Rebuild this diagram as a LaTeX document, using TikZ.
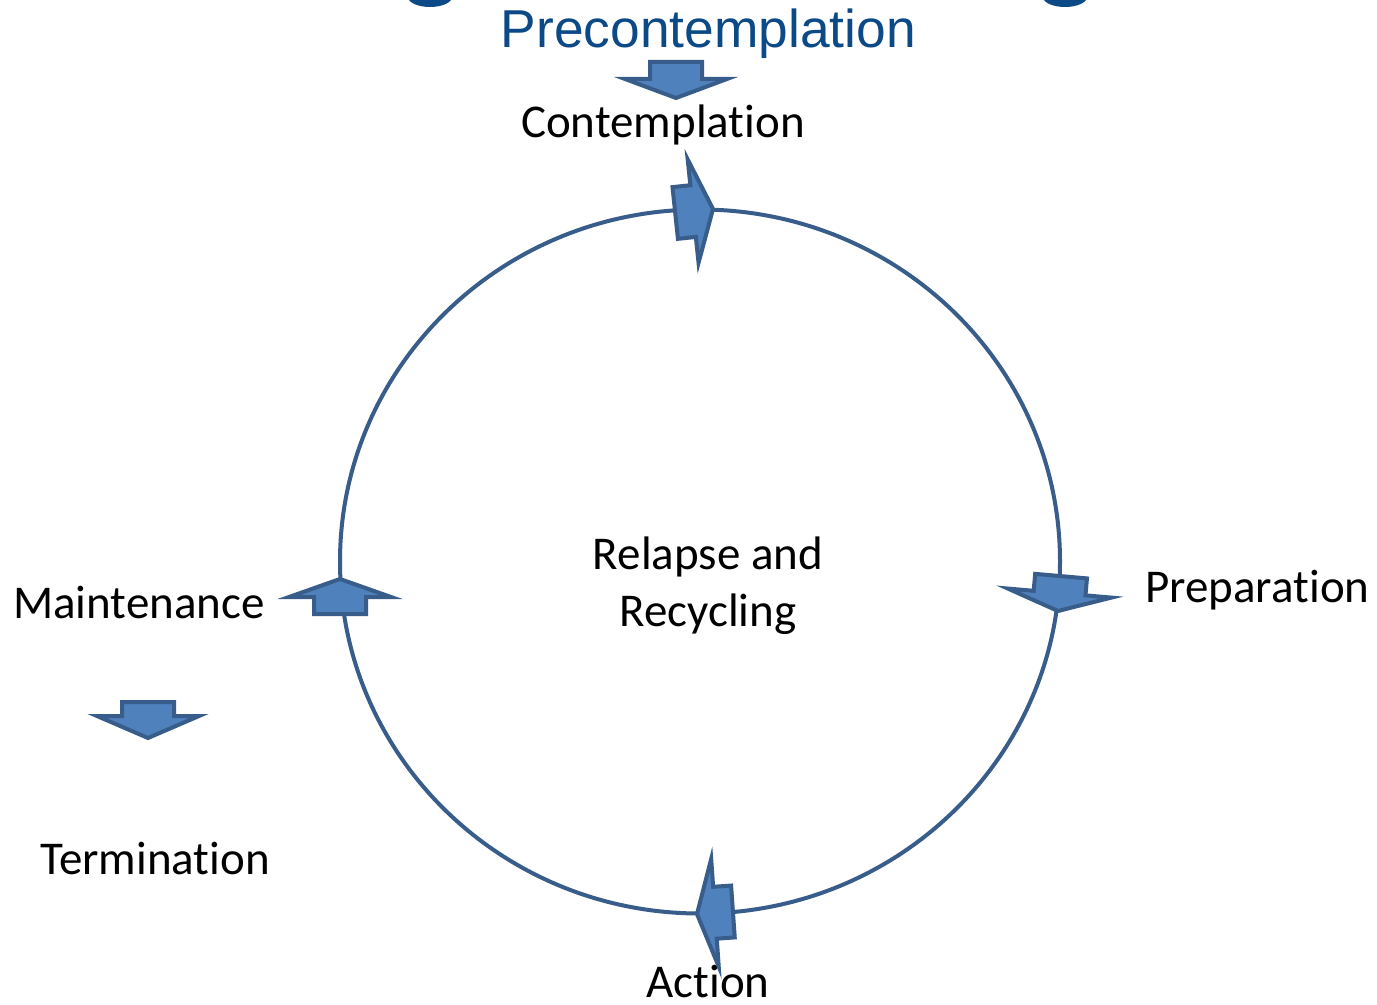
\documentclass[tikz,border=0pt]{standalone}
\usepackage{fontspec}
\setmainfont{Carlito}[Ligatures={CommonOff,RareOff,ContextualOff}]
\newfontfamily\titlefont{Liberation Sans}
\definecolor{titleblue}{RGB}{11,74,134}
\definecolor{arrowfill}{RGB}{79,129,189}
\definecolor{arrowline}{RGB}{56,93,138}
\tikzset{
  arrowshape/.style={draw=arrowline, fill=arrowfill, line width=3pt},
  pics/blockarrow/.style n args={4}{code={
    \path[arrowshape] (0,0) -- (-#2,-#4) -- (-#2,-#3) -- (-#2-#1,-#3)
      -- (-#2-#1,#3) -- (-#2,#3) -- (-#2,#4) -- cycle;
  }},
  lbl/.style={inner sep=0pt, font=\fontsize{35.25}{42.75}\selectfont, text=black},
  ttl/.style={inner sep=0pt, font=\titlefont\fontsize{40}{48}\selectfont, text=titleblue},
  ring/.style={draw=arrowline, line width=3pt}
}
\begin{document}
\begin{tikzpicture}[x=0.75pt,y=-0.75pt]
\useasboundingbox (0,0) rectangle (1377,1005);
\clip (0,0) rectangle (1377,1005);
\fill[white] (0,0) rectangle (1377,1005);
% remnants of the cut-off title
\fill[titleblue] (430,-3) ellipse [x radius=22, y radius=10];
\fill[titleblue] (1065,-3) ellipse [x radius=22, y radius=10];
% cycle
\path[ring] (700,561.5) ellipse [x radius=360, y radius=352];
% labels
\node[ttl, anchor=base] (pre) at (708.5,48) {Precontemplation};
\node[lbl, anchor=base] (con) at (663,138) {Contemplation};
\node[lbl, anchor=base west] (prep) at (1145,602) {Preparation};
\node[lbl, anchor=base] (act) at (708,997) {Action};
\node[lbl, anchor=base west] (main) at (13,618) {Maintenance};
\node[lbl, anchor=base west] (term) at (40,874) {Termination};
\node[lbl, anchor=base] (rel1) at (708,569) {Relapse and};
\node[lbl, anchor=base] (rel2) at (708,626) {Recycling};
% block arrows
\pic[rotate=-90] at (676,98) {blockarrow={17}{19}{26}{51}};
\pic[rotate=6] at (713,209) {blockarrow={18}{20}{26}{52}};
\pic[rotate=-95] at (1058,611) {blockarrow={17}{18}{26}{52}};
\pic[rotate=184] at (697,914) {blockarrow={18}{18}{26}{54}};
\pic[rotate=90] at (340,579) {blockarrow={17}{18}{26}{51}};
\pic[rotate=-90] at (148,738) {blockarrow={14}{22}{26}{51}};
\end{tikzpicture}
\end{document}
